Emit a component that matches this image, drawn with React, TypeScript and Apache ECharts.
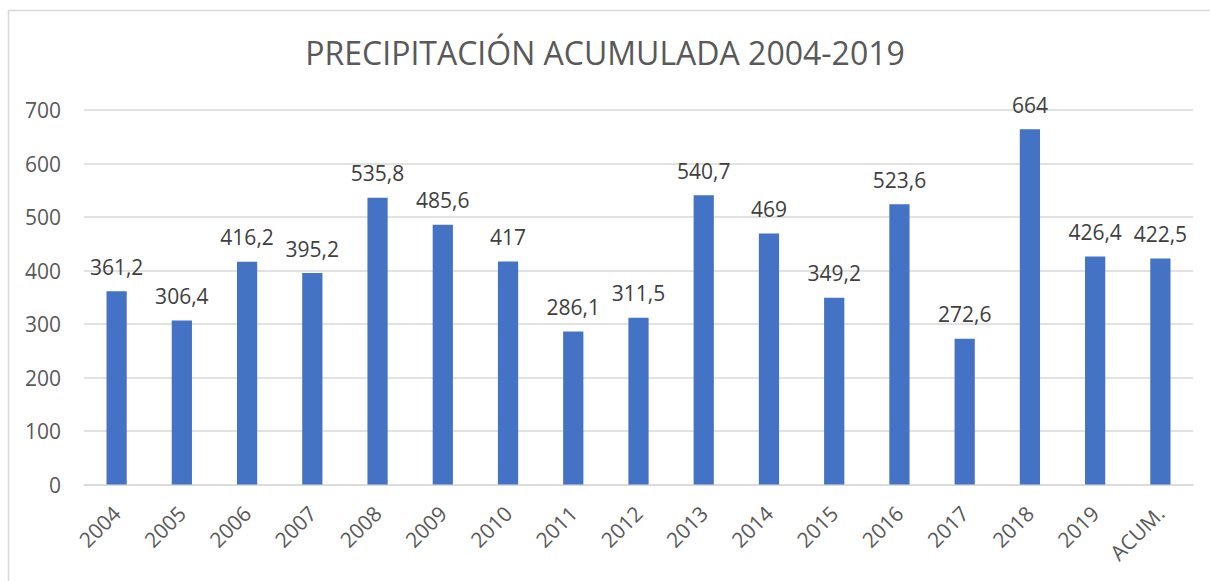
import React, { useEffect, useRef } from "react";
import * as echarts from "echarts";

const categories = ["2004","2005","2006","2007","2008","2009","2010","2011","2012","2013","2014","2015","2016","2017","2018","2019","ACUM."];
const values = [361.2, 306.4, 416.2, 395.2, 535.8, 485.6, 417, 286.1, 311.5, 540.7, 469, 349.2, 523.6, 272.6, 664, 426.4, 422.5];
const yTicks = { min: 0, max: 700, interval: 100 };
const title = "PRECIPITACIÓN ACUMULADA 2004-2019";

const FONT = "'Open Sans', 'Noto Sans', sans-serif";

export default function App() {
  const ref = useRef<HTMLDivElement>(null);
  useEffect(() => {
    if (!ref.current) return;
    const chart = echarts.init(ref.current, null, { renderer: "svg" });
    chart.setOption({
      animation: false,
      backgroundColor: "#ffffff",
      textStyle: { fontFamily: FONT },
      title: {
        text: title,
        left: "center",
        top: 31,
        textStyle: { fontFamily: FONT, fontSize: 32, fontWeight: "normal", color: "#595959" },
      },
      graphic: [
        {
          type: "rect",
          shape: { x: 8.5, y: 10.5, width: 1400, height: 800 },
          style: { fill: "none", stroke: "#D9D9D9", lineWidth: 1.5 },
          silent: true,
        },
      ],
      grid: { left: 84, right: 17, top: 110, bottom: 96.5, containLabel: false },
      xAxis: {
        type: "category",
        data: categories,
        axisLine: { show: true, lineStyle: { color: "#D9D9D9", width: 1.5 } },
        axisTick: { show: false },
        axisLabel: {
          rotate: 45,
          interval: 0,
          margin: 25,
          color: "#595959",
          fontSize: 21,
          fontFamily: FONT,
        },
      },
      yAxis: {
        type: "value",
        min: yTicks.min,
        max: yTicks.max,
        interval: yTicks.interval,
        axisLine: { show: false },
        axisTick: { show: false },
        splitLine: { lineStyle: { color: "#D9D9D9", width: 1.5 } },
        axisLabel: { color: "#595959", fontSize: 21, margin: 23, fontFamily: FONT },
      },
      series: [
        {
          type: "bar",
          data: values,
          barCategoryGap: "69%",
          itemStyle: { color: "#4472C4" },
          label: {
            show: true,
            position: "top",
            distance: 14,
            color: "#404040",
            fontSize: 21,
            fontFamily: FONT,
            formatter: (p: any) => String(p.value).replace(".", ","),
          },
        },
      ],
    });
    return () => chart.dispose();
  }, []);
  return <div ref={ref} style={{ position: "fixed", left: 0, top: 0, width: 1210, height: 581 }} />;
}
